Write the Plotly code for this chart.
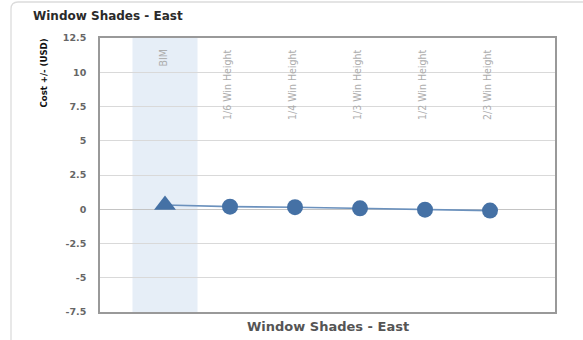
import plotly.graph_objects as go

# ---- data ----
categories = ["BIM", "1/6 Win Height", "1/4 Win Height", "1/3 Win Height",
              "1/2 Win Height", "2/3 Win Height"]
cost_delta = [0.31, 0.19, 0.15, 0.07, -0.03, -0.10]
marker_symbols = ["triangle-up", "circle", "circle", "circle", "circle", "circle"]
marker_sizes = [19, 16, 16, 16, 16, 16]
y_tickvals = [-7.5, -5, -2.5, 0, 2.5, 5, 7.5, 10, 12.5]
y_ticktext = ["-7.5", "-5", "-2.5", "0", "2.5", "5", "7.5", "10", "12.5"]
chart_title = "Window Shades - East"
x_title = "Window Shades - East"
y_title = "Cost +/- (USD)"
highlight = "BIM"

W, H = 583, 340
ML, MR, MT, MB = 100, 28, 38, 28
PW, PH = W - ML - MR, H - MT - MB
NARROW = "DejaVu Sans Condensed, Liberation Sans Narrow, Arial Narrow, Liberation Sans"


def px(xp):
    return (xp - ML) / PW


def py(yp):
    return (H - MB - yp) / PH


xidx = list(range(len(categories)))
fig = go.Figure()

fig.add_trace(go.Scatter(
    x=xidx, y=cost_delta, mode="lines+markers",
    line=dict(color="#6b91bd", width=1.6),
    marker=dict(symbol=marker_symbols, size=marker_sizes, color="#4571a5",
                opacity=1, line=dict(width=0)),
    hoverinfo="skip", showlegend=False,
))

hi = categories.index(highlight)
shapes = [
    dict(type="rect", xref="x", yref="paper", x0=hi - 0.5, x1=hi + 0.5,
         y0=0, y1=1, fillcolor="#e6eef7", line=dict(width=0), layer="below"),
    # card border (left edge with rounded corner, faint top)
    dict(type="path", xref="paper", yref="paper",
         path=f"M {px(11)},{py(342)} L {px(11)},{py(9)} Q {px(11)},{py(2)} {px(18)},{py(2)} L {px(583)},{py(2)}",
         line=dict(color="#dcdcdc", width=1.3)),
]

annotations = [
    dict(text=chart_title, xref="paper", yref="paper", x=px(31), y=py(16),
         xanchor="left", yanchor="middle", showarrow=False,
         font=dict(family="DejaVu Sans", size=12, color="#2a2a2a", weight="bold")),
    dict(text=x_title, xref="paper", yref="paper", x=0.5, y=0,
         xanchor="center", yanchor="top", yshift=-5, showarrow=False,
         font=dict(family="DejaVu Sans", size=13, color="#555555", weight="bold")),
    dict(text=y_title, xref="paper", yref="paper", x=px(43), y=1,
         xanchor="center", yanchor="top", yshift=1, textangle=-90, showarrow=False,
         font=dict(family=NARROW, size=9.5, color="#111111", weight="bold")),
]
for i, c in enumerate(categories):
    annotations.append(dict(
        text=c, xref="x", yref="paper", x=i, y=1, xanchor="center", yanchor="top",
        xshift=-3, yshift=-10, textangle=-90, showarrow=False,
        font=dict(family=NARROW, size=10.5, color="#adadad"),
    ))

fig.update_layout(
    width=W, height=H,
    margin=dict(l=ML, r=MR, t=MT, b=MB),
    paper_bgcolor="white", plot_bgcolor="white",
    shapes=shapes, annotations=annotations,
    xaxis=dict(range=[-1, len(categories)], showgrid=False, zeroline=False,
               showticklabels=False, ticks="", showline=True, mirror=True,
               linecolor="#999999", linewidth=1.6, fixedrange=True),
    yaxis=dict(range=[-7.5, 12.5], tickvals=y_tickvals, ticktext=y_ticktext,
               showgrid=True, gridcolor="#d9d9d9", gridwidth=1,
               zeroline=True, zerolinecolor="#c4c4c4", zerolinewidth=1,
               showline=True, mirror=True, linecolor="#999999", linewidth=1.6,
               ticks="", ticklabelstandoff=10,
               tickfont=dict(family="DejaVu Sans", size=9.5, color="#666666",
                             weight="bold"),
               fixedrange=True),
)

fig.write_html("out.html")
